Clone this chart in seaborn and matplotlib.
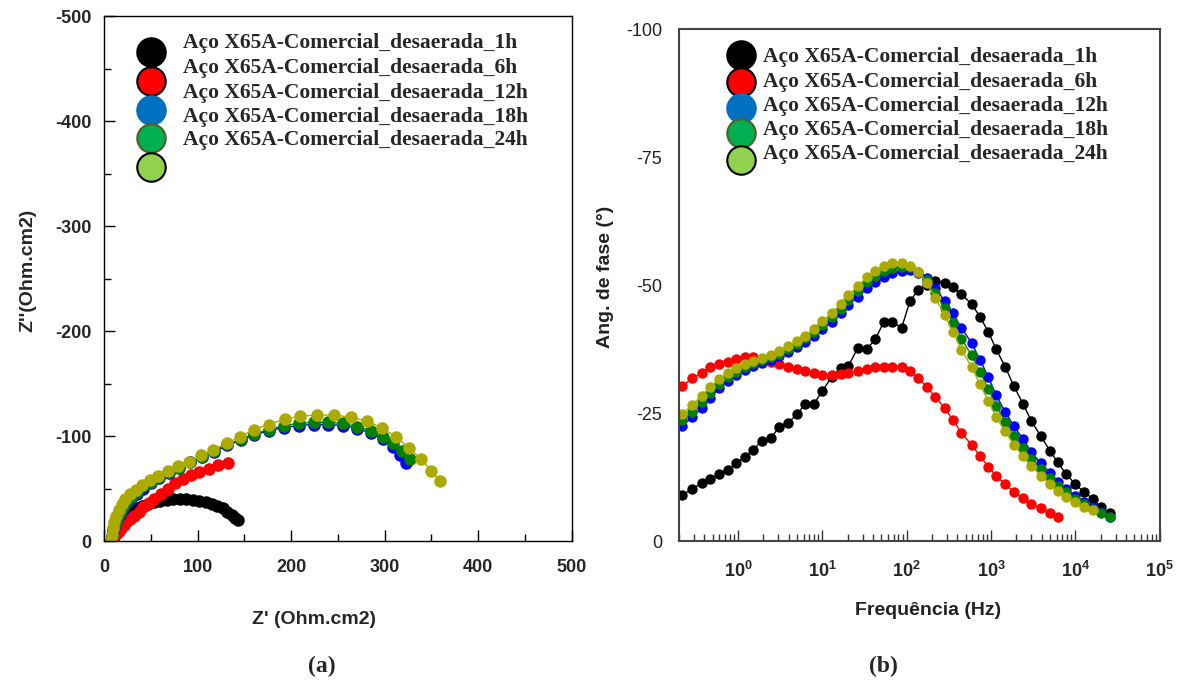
import matplotlib.pyplot as plt
import matplotlib.ticker as mticker
import seaborn as sns
import numpy as np
import pandas as pd

# legend / series names
series = ['Aço X65A-Comercial_desaerada_1h', 'Aço X65A-Comercial_desaerada_6h',
          'Aço X65A-Comercial_desaerada_12h', 'Aço X65A-Comercial_desaerada_18h',
          'Aço X65A-Comercial_desaerada_24h']
data_colors = ['#000000', '#FF0000', '#0000FF', '#008000', '#AAAA00']
legend_colors = ['#000000', '#FF0000', '#0070C0', '#00B050', '#92D050']
legend_edges = ['#000000', '#000000', '#0070C0', '#4F6228', '#000000']

# Nyquist data: Z' and Z'' (Ohm.cm2)
zr_1h = [8, 9, 10, 11, 13, 15, 17, 20, 23, 27, 31, 36, 41, 47, 53, 60, 67, 74, 81, 88,
         95, 102, 109, 115, 121, 127, 132, 137, 140, 143]
zi_1h = [0, -3, -6, -9, -12, -15, -18, -21, -24, -27, -29, -31, -33, -35, -37, -38, -39,
         -40, -40, -40, -39, -38, -37, -35, -33, -31, -28, -25, -22, -20]
zr_6h = [9, 10, 11, 12, 14, 16, 18, 21, 24, 28, 32, 37, 42, 48, 54, 61, 68, 76, 84, 93,
         102, 112, 122, 133]
zi_6h = [0, -2, -4, -6, -8, -10, -12, -15, -18, -21, -24, -28, -32, -36, -40, -45, -50,
         -55, -59, -63, -66, -69, -72, -74]
zr_12h = [8, 9, 10, 12, 14, 17, 20, 24, 29, 35, 42, 50, 59, 69, 80, 92, 105, 118, 132,
          146, 160, 176, 192, 208, 224, 240, 256, 271, 285, 298, 309, 317, 323]
zi_12h = [0, -5, -10, -15, -20, -25, -30, -35, -40, -45, -50, -55, -60, -65, -70, -75,
          -80, -85, -91, -96, -101, -105, -108, -110, -111, -111, -110, -107, -103, -97,
          -90, -82, -74]
zr_18h = [8, 9, 10, 12, 14, 17, 20, 24, 29, 35, 42, 50, 59, 69, 80, 92, 105, 118, 132,
          146, 160, 176, 192, 208, 224, 240, 256, 271, 285, 298, 309, 319, 327]
zi_18h = [0, -5, -11, -16, -21, -27, -32, -37, -42, -47, -52, -56, -61, -66, -70, -75,
          -80, -86, -92, -97, -102, -106, -110, -112, -113, -113, -112, -109, -105, -99,
          -93, -86, -78]
zr_24h = [8, 9, 10, 11, 13, 16, 19, 23, 28, 34, 41, 49, 58, 68, 79, 91, 104, 117, 131,
          145, 160, 176, 193, 210, 228, 246, 264, 281, 297, 312, 326, 339, 350, 359]
zi_24h = [0, -6, -12, -18, -24, -30, -35, -40, -45, -49, -53, -58, -62, -67, -71, -75,
          -82, -87, -93, -99, -106, -111, -116, -119, -120, -120, -118, -114, -108, -99,
          -89, -78, -67, -57]

# Bode data: log10(frequency) and phase angle (deg)
logf = [-0.66, -0.54, -0.43, -0.33, -0.22, -0.12, -0.02, 0.08, 0.18, 0.28, 0.39, 0.49,
        0.59, 0.70, 0.80, 0.90, 1.00, 1.11, 1.22, 1.31, 1.42, 1.53, 1.63, 1.73, 1.83,
        1.94, 2.04, 2.14, 2.24, 2.34, 2.45, 2.55, 2.65, 2.77, 2.87, 2.97, 3.06, 3.17,
        3.27, 3.38, 3.48, 3.59, 3.70, 3.79, 3.89, 4.00, 4.10, 4.21, 4.30, 4.41]
ph_1h = [-9.0, -10.2, -11.3, -12.1, -13.1, -13.9, -15.2, -16.4, -17.8, -19.5, -20.1,
         -22.3, -23.0, -24.8, -26.8, -26.8, -29.3, -32.0, -33.8, -34.2, -37.7, -37.5,
         -39.5, -42.8, -42.8, -41.6, -46.9, -49.0, -50.0, -50.8, -50.4, -49.6, -48.2,
         -46.3, -43.8, -40.8, -37.5, -34.0, -30.3, -26.8, -23.4, -20.5, -17.6, -15.4,
         -13.1, -11.1, -9.6, -8.2, -6.6, -5.5]
ph_6h = [-30.3, -31.8, -32.8, -34.0, -34.6, -35.0, -35.5, -35.9, -35.9, -35.4, -35.0,
         -34.6, -34.0, -33.6, -33.2, -32.8, -32.4, -32.4, -32.6, -32.8, -33.2, -33.6,
         -34.0, -34.0, -34.0, -34.0, -33.2, -31.8, -30.1, -28.1, -26.0, -23.6, -21.1,
         -18.8, -16.6, -14.5, -12.7, -11.1, -9.6, -8.4, -7.2, -6.4, -5.5, -4.7]
ph_12h = [-22.5, -24.2, -26.0, -27.9, -29.9, -31.3, -32.4, -33.4, -34.2, -34.8, -35.4,
          -36.1, -36.9, -37.9, -38.9, -40.0, -41.4, -42.8, -44.5, -46.1, -47.7, -49.4,
          -50.6, -51.6, -52.3, -52.7, -52.9, -52.3, -51.3, -49.4, -46.9, -44.5, -41.6,
          -38.7, -35.4, -32.0, -28.5, -25.2, -22.5, -19.9, -17.4, -15.2, -13.3, -11.5,
          -10.2, -8.8, -7.6, -6.6, -5.7, -4.7]
ph_18h = [-23.6, -25.3, -27.1, -28.9, -30.7, -32.0, -33.1, -34.0, -34.7, -35.3, -35.9,
          -36.6, -37.5, -38.5, -39.6, -40.8, -42.2, -43.7, -45.4, -47.1, -48.8, -50.5,
          -51.8, -52.8, -53.4, -53.6, -53.5, -52.6, -50.9, -48.5, -45.6, -42.6, -39.5,
          -36.3, -33.0, -29.7, -26.4, -23.3, -20.6, -18.2, -16.0, -14.0, -12.3, -10.8,
          -9.5, -8.3, -7.2, -6.3, -5.5, -4.6]
ph_24h = [-24.8, -26.6, -28.4, -30.1, -31.6, -32.8, -33.8, -34.6, -35.2, -35.8, -36.4,
          -37.1, -38.0, -39.0, -40.1, -41.4, -42.9, -44.5, -46.3, -48.0, -49.8, -51.5,
          -52.8, -53.8, -54.4, -54.3, -53.8, -52.6, -50.4, -47.5, -44.2, -40.8, -37.4,
          -34.0, -30.6, -27.3, -24.2, -21.4, -18.8, -16.6, -14.6, -12.8, -11.2, -9.8,
          -8.6, -7.6, -6.7, -6.0]

nyq = [(zr_1h, zi_1h), (zr_6h, zi_6h), (zr_12h, zi_12h), (zr_18h, zi_18h), (zr_24h, zi_24h)]
bode = [ph_1h, ph_6h, ph_12h, ph_18h, ph_24h]

sns.set_style('ticks')
plt.rcParams['font.family'] = ['Liberation Sans Narrow', 'Liberation Sans', 'DejaVu Sans']
plt.rcParams['axes.unicode_minus'] = False
plt.rcParams['mathtext.fontset'] = 'custom'
plt.rcParams['mathtext.rm'] = 'Liberation Sans:bold'
plt.rcParams['mathtext.it'] = 'Liberation Sans:bold'
serif = ['Liberation Serif', 'DejaVu Serif']

fig = plt.figure(figsize=(11.87, 6.84), dpi=100)
ax1 = fig.add_axes([0.0876, 0.209, 0.394, 0.7675])
ax2 = fig.add_axes([0.572, 0.209, 0.405, 0.7485])

# ---- (a) Nyquist
for (zr, zi), c in zip(nyq, data_colors):
    df = pd.DataFrame({'zr': zr, 'zi': zi})
    sns.lineplot(data=df, x='zr', y='zi', sort=False, ax=ax1, color=c, lw=1,
                 marker='o', markersize=9, markeredgewidth=0, estimator=None)

ax1.set_xlim(0, 500)
ax1.set_ylim(0, -500)
ax1.set_xticks(np.arange(0, 501, 100))
ax1.set_yticks(np.arange(0, -501, -100))
ax1.xaxis.set_minor_locator(mticker.MultipleLocator(50))
ax1.yaxis.set_minor_locator(mticker.MultipleLocator(50))
ax1.tick_params(which='both', bottom=True, left=True, top=False, right=False)
ax1.tick_params(which='major', direction='in', length=8, width=1, labelsize=13, color='black')
ax1.tick_params(which='minor', direction='in', length=5, width=1, color='black')
ax1.tick_params(axis='x', pad=13)
ax1.tick_params(axis='y', pad=9)
for t in ax1.get_xticklabels() + ax1.get_yticklabels():
    t.set_fontweight('bold')
ax1.set_xlabel('')
ax1.set_ylabel('')

# legend (a) drawn by hand, markers spaced apart from text rows
mk_y = [0.931, 0.876, 0.821, 0.768, 0.712]
tx_y = [0.949, 0.901, 0.853, 0.808, 0.764]
for i in range(5):
    ax1.scatter(0.100, mk_y[i], s=420, color=legend_colors[i], edgecolor=legend_edges[i],
                linewidth=1.5, transform=ax1.transAxes, zorder=5, clip_on=False)
    ax1.text(0.169, tx_y[i], series[i], transform=ax1.transAxes, va='center', ha='left',
             fontsize=15.5, fontweight='bold', family=serif)

# ---- (b) Bode phase
for ph, c in zip(bode, data_colors):
    df = pd.DataFrame({'f': 10 ** np.array(logf[:len(ph)]), 'ph': ph})
    sns.lineplot(data=df, x='f', y='ph', sort=False, ax=ax2, color=c, lw=1,
                 marker='o', markersize=7.5, markeredgewidth=0, estimator=None)

ax2.set_xscale('log')
ax2.set_xlim(0.2, 1e5)
ax2.set_ylim(0, -100)
ax2.set_yticks([0, -25, -50, -75, -100])
ax2.xaxis.set_major_locator(mticker.LogLocator(base=10, numticks=10))
ax2.xaxis.set_minor_locator(mticker.LogLocator(base=10, subs=np.arange(2, 10), numticks=20))
ax2.xaxis.set_minor_formatter(mticker.NullFormatter())
ax2.tick_params(which='both', bottom=True, left=False, top=False, right=False)
ax2.tick_params(which='major', direction='in', length=8, width=1, labelsize=13, color='#333333')
ax2.tick_params(which='minor', direction='in', length=5, width=1, color='#333333')
ax2.tick_params(axis='y', length=0, pad=12, labelcolor='#222222')
ax2.tick_params(axis='x', pad=14)
for t in ax2.get_xticklabels():
    t.set_fontweight('bold')
for s in ax2.spines.values():
    s.set_color('#444444')
    s.set_linewidth(1.5)
ax2.set_xlabel('')
ax2.set_ylabel('')

mk_y2 = [0.949, 0.896, 0.846, 0.797, 0.744]
tx_y2 = [0.945, 0.896, 0.850, 0.803, 0.756]
for i in range(5):
    ax2.scatter(0.129, mk_y2[i], s=420, color=legend_colors[i], edgecolor=legend_edges[i],
                linewidth=1.5, transform=ax2.transAxes, zorder=5, clip_on=False)
    ax2.text(0.175, tx_y2[i], series[i], transform=ax2.transAxes, va='center', ha='left',
             fontsize=15.5, fontweight='bold', family=serif)

for s in ax1.spines.values():
    s.set_color('black')
    s.set_linewidth(1)

# axis titles and panel labels
fig.text(0.0236, 0.605, "Z''(Ohm.cm2)", rotation=90, ha='center', va='center',
         fontsize=14, fontweight='bold')
fig.text(0.2645, 0.0936, "Z' (Ohm.cm2)", ha='center', va='center', fontsize=14, fontweight='bold')
fig.text(0.5097, 0.595, 'Ang. de fase (°)', rotation=90, ha='center', va='center',
         fontsize=14, fontweight='bold', color='#222222')
fig.text(0.782, 0.108, 'Frequência (Hz)', ha='center', va='center', fontsize=14,
         fontweight='bold', color='#222222')
fig.text(0.271, 0.025, '(a)', ha='center', va='center', fontsize=17, fontweight='bold', family=serif)
fig.text(0.744, 0.025, '(b)', ha='center', va='center', fontsize=17, fontweight='bold', family=serif)

fig.savefig('out.png', dpi=100)
